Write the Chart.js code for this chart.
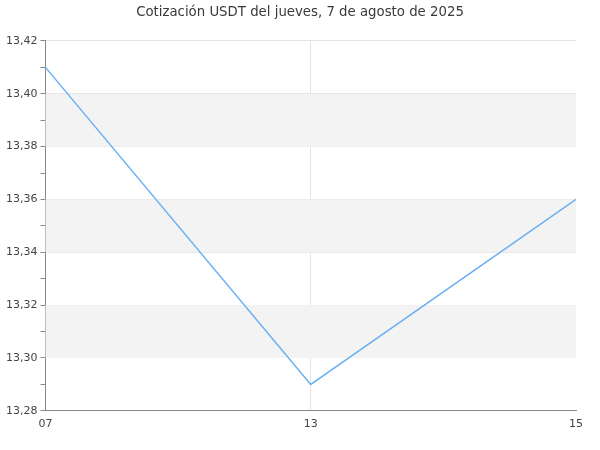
<!DOCTYPE html>
<html>
<head>
<meta charset="utf-8">
<script src="https://cdn.jsdelivr.net/npm/chart.js@4/dist/chart.umd.min.js"></script>
<style>
    html, body { margin: 0; padding: 0; background: #fff; }
    #wrap { width: 600px; height: 450px; }
</style>
</head>
<body>
<div id="wrap"><canvas id="priceChart"></canvas></div>
<script>
// Hours of the day and USDT price at each
const hours = ['07', '13', '15'];
const prices = [13.41, 13.29, 13.36];

// Y ticks every 0.01, labels only on the even ones
const yTicks = [13.28, 13.29, 13.30, 13.31, 13.32, 13.33, 13.34, 13.35, 13.36, 13.37, 13.38, 13.39, 13.40, 13.41, 13.42];

// Shaded bands between these pairs of values
const bandFrom = [13.30, 13.34, 13.38];
const bandTo = [13.32, 13.36, 13.40];

const fmt = v => v.toFixed(2).replace('.', ',');

// Draw the gray alternating bands behind the line
const bandsPlugin = {
    id: 'bands',
    beforeDatasetsDraw(chart) {
        const { ctx, chartArea, scales } = chart;
        ctx.save();
        ctx.fillStyle = '#f3f3f3';
        bandFrom.forEach((from, i) => {
            const y1 = scales.y.getPixelForValue(bandTo[i]);
            const y2 = scales.y.getPixelForValue(from);
            ctx.fillRect(chartArea.left, y1, chartArea.right - chartArea.left, y2 - y1);
        });
        ctx.restore();
    }
};

Chart.defaults.font.family = 'DejaVu Sans';
Chart.defaults.color = '#444';

new Chart(document.getElementById('priceChart'), {
    type: 'line',
    data: {
        labels: hours,
        datasets: [{
            data: prices,
            borderColor: '#6cb0f4',
            borderWidth: 1.5,
            pointRadius: 0,
            tension: 0,
            fill: false
        }]
    },
    options: {
        responsive: true,
        maintainAspectRatio: false,
        animation: false,
        layout: { padding: { left: 3, right: 3, top: 0, bottom: 12 } },
        plugins: {
            legend: { display: false },
            tooltip: { enabled: false },
            title: {
                display: true,
                text: 'Cotización USDT del jueves, 7 de agosto de 2025',
                color: '#3a3a3a',
                font: { size: 13.3, weight: 'normal' },
                padding: { top: 5, bottom: 20 }
            }
        },
        scales: {
            x: {
                offset: false,
                afterFit: scale => {
                    // leave room on the right like the original
                    scale.paddingRight = 24;
                },
                border: { color: '#888', width: 1 },
                grid: {
                    color: c => (c.index === 1 ? '#e4e4e4' : 'rgba(0,0,0,0)'),
                    drawTicks: false
                },
                ticks: {
                    font: { size: 11 },
                    padding: 7,
                    maxRotation: 0
                }
            },
            y: {
                min: 13.28,
                max: 13.42,
                afterBuildTicks: scale => {
                    scale.ticks = yTicks.map(v => ({ value: v }));
                },
                border: { color: '#888', width: 1 },
                grid: {
                    color: c => (c.index % 2 === 0 ? '#e4e4e4' : 'rgba(0,0,0,0)'),
                    tickColor: '#888',
                    tickLength: 5
                },
                ticks: {
                    font: { size: 11 },
                    padding: 3,
                    autoSkip: false,
                    callback: (value, index) => (index % 2 === 0 ? fmt(yTicks[index]) : '')
                }
            }
        }
    },
    plugins: [bandsPlugin]
});
</script>
</body>
</html>
